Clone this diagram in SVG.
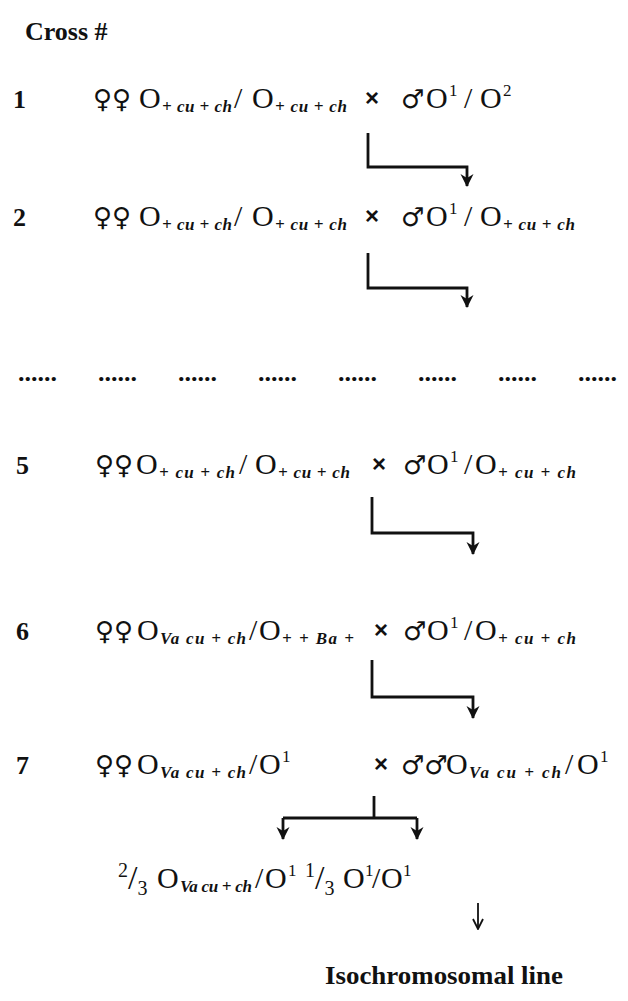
<svg xmlns="http://www.w3.org/2000/svg" width="628" height="1001" viewBox="0 0 628 1001">
<style>
text{font-family:"Liberation Serif","Times New Roman",serif;fill:#111}
.lbl{font-weight:bold;font-size:26px}
.g{font-size:30px}
.sym{font-size:26px;font-family:"DejaVu Sans",sans-serif}
.sub{font-size:17px;font-style:italic;font-weight:bold}
.sup{font-size:17px}
.x{font-size:24px;font-weight:bold;font-family:"Liberation Sans",sans-serif}
.fr{font-size:20px}
.ln{fill:none;stroke:#111;stroke-width:2.8}
.thin{fill:none;stroke:#111;stroke-width:1.8}
</style>
<defs>
<marker id="ah" viewBox="0 0 14 14" refX="12" refY="7" markerWidth="14" markerHeight="14" markerUnits="userSpaceOnUse" orient="auto">
<path d="M0,0.5 L13,7 L0,13.5 L4,7 z" fill="#111"/>
</marker>
<marker id="ah2" viewBox="0 0 12 12" refX="11" refY="6" markerWidth="12" markerHeight="12" markerUnits="userSpaceOnUse" orient="auto">
<path d="M1,1 L11,6 L1,11" fill="none" stroke="#111" stroke-width="1.8"/>
</marker>
</defs>

<g id="title"><text class="lbl" x="25" y="40">Cross #</text></g>

<g id="cross1">
<text class="lbl" x="13" y="108">1</text>
<text class="sym" x="93" y="108">♀♀</text>
<text class="g" x="139" y="108">O</text>
<text class="sub" x="162" y="112" textLength="70" lengthAdjust="spacing">+ cu + ch</text>
<text class="g" x="234" y="108">/</text>
<text class="g" x="252" y="108">O</text>
<text class="sub" x="275" y="112" textLength="72" lengthAdjust="spacing">+ cu + ch</text>
<text class="x" x="365" y="106">×</text>
<text class="sym" x="401" y="108">♂</text>
<text class="g" x="426" y="108">O</text>
<text class="sup" x="449" y="96">1</text>
<text class="g" x="464" y="108">/</text>
<text class="g" x="480" y="108">O</text>
<text class="sup" x="503" y="96">2</text>
</g>

<g id="cross2">
<text class="lbl" x="13" y="226">2</text>
<text class="sym" x="93" y="226">♀♀</text>
<text class="g" x="139" y="226">O</text>
<text class="sub" x="162" y="230" textLength="70" lengthAdjust="spacing">+ cu + ch</text>
<text class="g" x="234" y="226">/</text>
<text class="g" x="252" y="226">O</text>
<text class="sub" x="275" y="230" textLength="72" lengthAdjust="spacing">+ cu + ch</text>
<text class="x" x="365" y="224">×</text>
<text class="sym" x="401" y="226">♂</text>
<text class="g" x="426" y="226">O</text>
<text class="sup" x="449" y="214">1</text>
<text class="g" x="464" y="226">/</text>
<text class="g" x="480" y="226">O</text>
<text class="sub" x="503" y="230" textLength="72" lengthAdjust="spacing">+ cu + ch</text>
</g>

<g id="ellipsis">
<text class="lbl" x="18" y="381">......</text>
<text class="lbl" x="98" y="381">......</text>
<text class="lbl" x="178" y="381">......</text>
<text class="lbl" x="258" y="381">......</text>
<text class="lbl" x="338" y="381">......</text>
<text class="lbl" x="418" y="381">......</text>
<text class="lbl" x="498" y="381">......</text>
<text class="lbl" x="578" y="381">......</text>
</g>

<g id="cross5">
<text class="lbl" x="16" y="474">5</text>
<text class="sym" x="95" y="474">♀♀</text>
<text class="g" x="136" y="474">O</text>
<text class="sub" x="159" y="478" textLength="76" lengthAdjust="spacing">+ cu + ch</text>
<text class="g" x="239" y="474">/</text>
<text class="g" x="255" y="474">O</text>
<text class="sub" x="278" y="478" textLength="72" lengthAdjust="spacing">+ cu + ch</text>
<text class="x" x="372" y="472">×</text>
<text class="sym" x="403" y="474">♂</text>
<text class="g" x="427" y="474">O</text>
<text class="sup" x="450" y="462">1</text>
<text class="g" x="464" y="474">/</text>
<text class="g" x="475" y="474">O</text>
<text class="sub" x="498" y="478" textLength="78" lengthAdjust="spacing">+ cu + ch</text>
</g>

<g id="cross6">
<text class="lbl" x="16" y="640">6</text>
<text class="sym" x="95" y="640">♀♀</text>
<text class="g" x="137" y="640">O</text>
<text class="sub" x="160" y="644" textLength="86" lengthAdjust="spacing">Va cu + ch</text>
<text class="g" x="249" y="640">/</text>
<text class="g" x="259" y="640">O</text>
<text class="sub" x="282" y="644" textLength="72" lengthAdjust="spacing">+ + Ba +</text>
<text class="x" x="374" y="638">×</text>
<text class="sym" x="403" y="640">♂</text>
<text class="g" x="427" y="640">O</text>
<text class="sup" x="450" y="628">1</text>
<text class="g" x="464" y="640">/</text>
<text class="g" x="475" y="640">O</text>
<text class="sub" x="498" y="644" textLength="78" lengthAdjust="spacing">+ cu + ch</text>
</g>

<g id="cross7">
<text class="lbl" x="16" y="774">7</text>
<text class="sym" x="95" y="774">♀♀</text>
<text class="g" x="137" y="774">O</text>
<text class="sub" x="160" y="778" textLength="86" lengthAdjust="spacing">Va cu + ch</text>
<text class="g" x="249" y="774">/</text>
<text class="g" x="259" y="774">O</text>
<text class="sup" x="282" y="762">1</text>
<text class="x" x="374" y="772">×</text>
<text class="sym" x="401" y="774">♂♂</text>
<text class="g" x="446" y="774">O</text>
<text class="sub" x="469" y="778" textLength="92" lengthAdjust="spacing">Va cu + ch</text>
<text class="g" x="565" y="774">/</text>
<text class="g" x="577" y="774">O</text>
<text class="sup" x="600" y="762">1</text>
</g>

<g id="offspring1">
<text class="fr" x="118" y="877">2<tspan font-size="34" dy="12">/</tspan><tspan dy="6">3</tspan></text>
<text class="g" x="157" y="888">O</text>
<text class="sub" x="180" y="892" textLength="72" lengthAdjust="spacing">Va cu + ch</text>
<text class="g" x="255" y="888">/</text>
<text class="g" x="265" y="888">O</text>
<text class="sup" x="288" y="876">1</text>
</g>

<g id="offspring2">
<text class="fr" x="305" y="877">1<tspan font-size="34" dy="12">/</tspan><tspan dy="6">3</tspan></text>
<text class="g" x="343" y="888">O</text>
<text class="sup" x="365" y="876">1</text>
<text class="g" x="372" y="888">/</text>
<text class="g" x="381" y="888">O</text>
<text class="sup" x="403" y="876">1</text>
</g>

<g id="result"><text class="lbl" x="325" y="984" textLength="238" lengthAdjust="spacingAndGlyphs">Isochromosomal line</text></g>

<g id="connectors">
<path class="ln" d="M368,133 V167 H467 V186" marker-end="url(#ah)"/>
<path class="ln" d="M368,253 V288 H467 V307" marker-end="url(#ah)"/>
<path class="ln" d="M372,497 V533 H473 V554" marker-end="url(#ah)"/>
<path class="ln" d="M372,660 V697 H473 V718" marker-end="url(#ah)"/>
<path class="ln" d="M374,796 V818"/>
<path class="ln" d="M283,818 H417"/>
<path class="ln" d="M283,818 V839" marker-end="url(#ah)"/>
<path class="ln" d="M417,818 V839" marker-end="url(#ah)"/>
<path class="thin" d="M478,903 V929" marker-end="url(#ah2)"/>
</g>
</svg>
